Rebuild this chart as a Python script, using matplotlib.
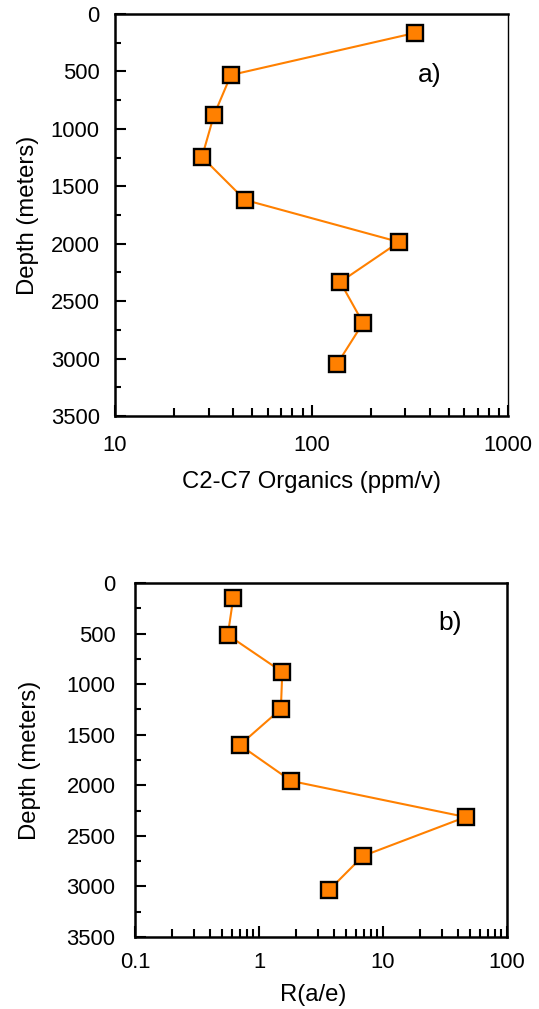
import matplotlib
matplotlib.use("Agg")
import matplotlib.pyplot as plt
from matplotlib.ticker import MultipleLocator, LogLocator, FuncFormatter, NullFormatter

plt.rcParams['font.family'] = ['Liberation Sans', 'DejaVu Sans']

# depth profiles (meters)
depth_a = [165, 531, 879, 1245, 1619, 1985, 2333, 2690, 3047]
organics = [336, 38.9, 31.9, 27.7, 45.9, 279, 140, 183, 135]

depth_b = [148, 514, 880, 1246, 1602, 1958, 2314, 2699, 3035]
ratio_ae = [0.62, 0.56, 1.54, 1.5, 0.70, 1.82, 46.4, 6.9, 3.68]

line_col = '#FF8000'
fs = 15.8      # tick labels
lfs = 17.2     # axis labels

fig = plt.figure(figsize=(5.39, 10.09), dpi=100)
ax1 = fig.add_axes([0.2134, 0.5877, 0.7291, 0.3984])
ax2 = fig.add_axes([0.2505, 0.0714, 0.6902, 0.3508])


def style(ax, xlim, xpad, ypad):
    ax.set_xscale('log')
    ax.set_xlim(*xlim)
    ax.set_ylim(3500, 0)
    ax.yaxis.set_major_locator(MultipleLocator(500))
    ax.yaxis.set_minor_locator(MultipleLocator(250))
    ax.xaxis.set_major_locator(LogLocator(base=10))
    ax.xaxis.set_minor_locator(LogLocator(base=10, subs=range(2, 10)))
    ax.xaxis.set_major_formatter(FuncFormatter(lambda v, p: '{:g}'.format(v)))
    ax.xaxis.set_minor_formatter(NullFormatter())
    ax.tick_params(axis='y', which='both', direction='in', left=True, right=False,
                   width=1.5, labelsize=fs, pad=ypad)
    ax.tick_params(axis='y', which='major', length=8)
    ax.tick_params(axis='y', which='minor', length=4.5)
    ax.tick_params(axis='x', which='both', direction='in', bottom=True, top=False,
                   width=1.5, labelsize=fs, pad=xpad)
    ax.tick_params(axis='x', which='major', length=8)
    ax.tick_params(axis='x', which='minor', length=6)
    for s in ['left', 'top', 'bottom']:
        ax.spines[s].set_linewidth(1.8)
    ax.set_ylabel('Depth (meters)', fontsize=lfs, va='center')


style(ax1, (10, 1000), 14, 11)
ax1.spines['right'].set_linewidth(1.0)
ax1.plot(organics, depth_a, color=line_col, lw=1.5, marker='s', ms=11,
         mfc=line_col, mec='black', mew=1.7)
ax1.set_xlabel('C2-C7 Organics (ppm/v)', fontsize=lfs, va='center')
ax1.xaxis.set_label_coords(0.5, -0.164)
ax1.yaxis.set_label_coords(-0.221, 0.5)
ax1.text(0.80, 0.848, 'a)', transform=ax1.transAxes, fontsize=19,
         ha='center', va='center')

style(ax2, (0.1, 100), 11, 14)
ax2.spines['right'].set_linewidth(1.8)
ax2.plot(ratio_ae, depth_b, color=line_col, lw=1.5, marker='s', ms=11,
         mfc=line_col, mec='black', mew=1.7)
ax2.set_xlabel('R(a/e)', fontsize=lfs, va='center')
ax2.xaxis.set_label_coords(0.48, -0.164)
ax2.yaxis.set_label_coords(-0.282, 0.5)
ax2.text(0.847, 0.887, 'b)', transform=ax2.transAxes, fontsize=19,
         ha='center', va='center')

fig.savefig('out.png', dpi=100)
